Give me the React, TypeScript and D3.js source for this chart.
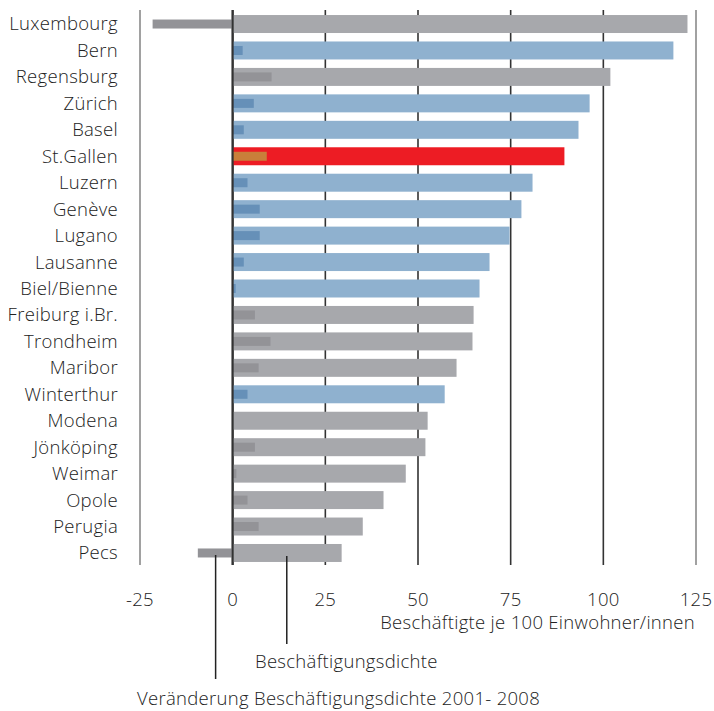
import * as d3 from "d3";

const cities = [
  "Luxembourg", "Bern", "Regensburg", "Zürich", "Basel", "St.Gallen", "Luzern",
  "Genève", "Lugano", "Lausanne", "Biel/Bienne", "Freiburg i.Br.", "Trondheim",
  "Maribor", "Winterthur", "Modena", "Jönköping", "Weimar", "Opole", "Perugia", "Pecs",
];
// Beschäftigte je 100 Einwohner/innen
const density = [
  122.7, 118.9, 101.9, 96.3, 93.3, 89.5, 80.9, 77.9, 74.7, 69.3, 66.6,
  65.0, 64.7, 60.4, 57.2, 52.6, 52.0, 46.7, 40.7, 35.1, 29.4,
];
// Veränderung 2001-2008
const change = [
  -21.6, 2.7, 10.5, 5.7, 3.0, 9.2, 4.0, 7.3, 7.3, 3.0, 0.8,
  6.0, 10.2, 7.0, 4.0, 0, 6.0, 1.0, 4.0, 7.0, -9.4,
];
// group: "ch" = Swiss city, "sg" = St.Gallen, "int" = others
const group = [
  "int", "ch", "int", "ch", "ch", "sg", "ch", "ch", "ch", "ch", "ch",
  "int", "int", "int", "ch", "int", "int", "int", "int", "int", "int",
];
const ticks = [-25, 0, 25, 50, 75, 100, 125];

const outerColor: Record<string, string> = { int: "#a7a8ac", ch: "#8fb1cf", sg: "#ed1c24" };
const innerColor: Record<string, string> = { int: "#939397", ch: "#6690b8", sg: "#c97f3a" };

const txt = {
  fontFamily: "'Open Sans', sans-serif",
  fontWeight: 300,
  fontSize: 18.5,
  letterSpacing: 0.3,
  fill: "#222",
};

export default function App() {
  const W = 714;
  const H = 711;
  const x = d3.scaleLinear().domain([-25, 125]).range([140, 696]);
  const y = d3
    .scaleBand()
    .domain(cities)
    .range([10.8, 566.2])
    .paddingInner(0.32)
    .paddingOuter(0.16);
  const bw = y.bandwidth();
  const ih = 9;

  return (
    <svg width={W} height={H} style={{ position: "absolute", left: 0, top: 0, background: "#fff" }}>
      {/* grid lines */}
      {ticks.map((t) => {
        const edge = t === -25 || t === 125;
        return (
          <line
            key={t}
            x1={x(t)}
            x2={x(t)}
            y1={10}
            y2={565}
            stroke={edge ? "#8a8a8a" : "#333"}
            strokeWidth={t === 0 ? 2 : 1.6}
          />
        );
      })}

      {/* bars */}
      {cities.map((c, i) => {
        const y0 = y(c)!;
        const v = change[i];
        return (
          <g key={c}>
            <rect x={x(0)} y={y0} width={x(density[i]) - x(0)} height={bw} fill={outerColor[group[i]]} />
            {v !== 0 && (
              <rect
                x={Math.min(x(0), x(v))}
                y={y0 + (bw - ih) / 2}
                width={Math.abs(x(v) - x(0))}
                height={ih}
                fill={innerColor[group[i]]}
              />
            )}
            <text x={118} y={y0 + bw / 2} dy="0.35em" textAnchor="end" {...txt}>
              {c}
            </text>
          </g>
        );
      })}

      {/* zero line on top */}
      <line x1={x(0)} x2={x(0)} y1={10} y2={565} stroke="#333" strokeWidth={2} />

      {/* tick labels */}
      {ticks.map((t) => (
        <text key={t} x={x(t)} y={606} textAnchor="middle" {...txt}>
          {t}
        </text>
      ))}
      <text x={695} y={629} textAnchor="end" {...txt}>
        Beschäftigte je 100 Einwohner/innen
      </text>

      {/* annotation lines */}
      <line x1={x(-4.6)} x2={x(-4.6)} y1={555} y2={679} stroke="#222" strokeWidth={1.5} />
      <line x1={x(14.6)} x2={x(14.6)} y1={556} y2={644} stroke="#222" strokeWidth={1.5} />
      <text x={255} y={668} {...txt}>
        Beschäftigungsdichte
      </text>
      <text x={137} y={705} {...txt}>
        Veränderung Beschäftigungsdichte 2001- 2008
      </text>
    </svg>
  );
}
